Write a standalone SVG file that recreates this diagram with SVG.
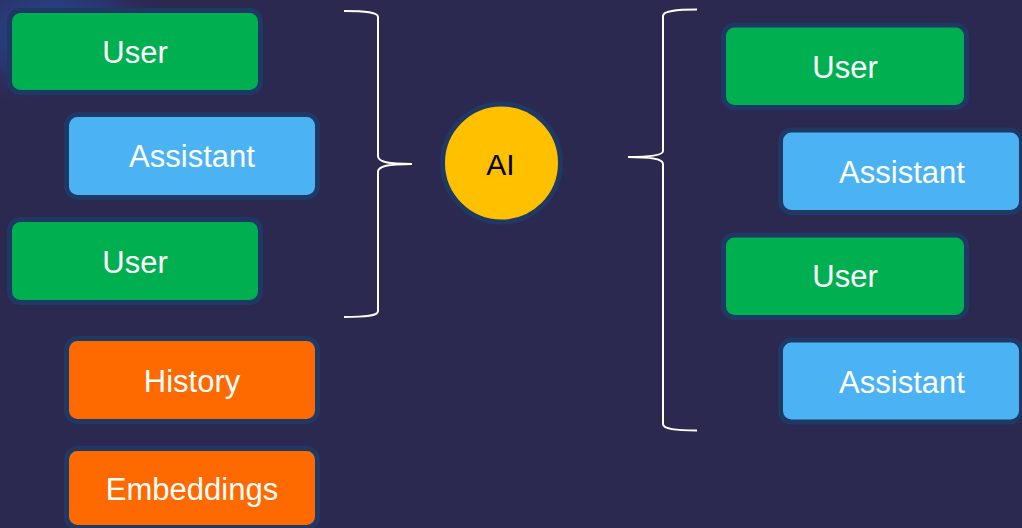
<svg xmlns="http://www.w3.org/2000/svg" width="1022" height="528" viewBox="0 0 1022 528">
<defs>
<radialGradient id="splash" cx="0.3" cy="0.3" r="0.7">
<stop offset="0" stop-color="#1f5aa8" stop-opacity="0.85"/>
<stop offset="0.6" stop-color="#2a3f8a" stop-opacity="0.5"/>
<stop offset="1" stop-color="#2c2951" stop-opacity="0"/>
</radialGradient>
</defs>
<style>
.box{stroke:#1f3864;stroke-width:5}
.user{fill:#00b050}
.asst{fill:#4bb3f4}
.hist{fill:#ff6a00}
.lbl{font-family:"Liberation Sans",Arial,sans-serif;font-size:31px;fill:#ffffff;text-anchor:middle}
.brace{fill:none;stroke:#ffffff;stroke-width:2}
</style>
<rect x="0" y="0" width="1022" height="528" fill="#2c2951"/>
<path d="M0,0 L170,0 C150,20 120,40 80,60 C50,80 40,100 30,110 L0,110 Z" fill="url(#splash)"/>
<g id="left-user-1"><rect class="box user" x="9.5" y="10.5" width="251" height="82" rx="11"/><text class="lbl" x="135" y="63">User</text></g>
<g id="left-assistant-1"><rect class="box asst" x="66.5" y="114.5" width="251" height="83" rx="11"/><text class="lbl" x="192" y="167">Assistant</text></g>
<g id="left-user-2"><rect class="box user" x="9.5" y="219.5" width="251" height="83" rx="11"/><text class="lbl" x="135" y="273">User</text></g>
<g id="history"><rect class="box hist" x="66.5" y="338.5" width="251" height="83" rx="11"/><text class="lbl" x="192" y="392">History</text></g>
<g id="embeddings"><rect class="box hist" x="66.5" y="448.5" width="251" height="79" rx="11"/><text class="lbl" x="192" y="500">Embeddings</text></g>
<g id="ai"><circle cx="501.5" cy="163" r="59" fill="#ffc000" stroke="#1f3864" stroke-width="5"/><text x="500.5" y="175" font-family="Liberation Sans,Arial,sans-serif" font-size="30" fill="#000000" text-anchor="middle">AI</text></g>
<g id="right-user-1"><rect class="box user" x="723.5" y="25" width="243" height="82.5" rx="11"/><text class="lbl" x="845" y="78">User</text></g>
<g id="right-assistant-1"><rect class="box asst" x="780.5" y="130" width="241" height="82.5" rx="11"/><text class="lbl" x="902" y="183">Assistant</text></g>
<g id="right-user-2"><rect class="box user" x="723.5" y="235" width="243" height="82.5" rx="11"/><text class="lbl" x="845" y="287">User</text></g>
<g id="right-assistant-2"><rect class="box asst" x="780.5" y="340" width="241" height="82" rx="11"/><text class="lbl" x="902" y="393">Assistant</text></g>
<g id="connectors">
<path class="brace" d="M344,11 C366,11 378,12 378,17 L378,156 C378,162 388,164 412,164 C388,164 378,166 378,172 L378,311 C378,316 366,317 344,317"/>
<path class="brace" d="M697,9.5 C675,9.5 663,11 663,16 L663,151 C663,155 652,157 628,157 C652,157 663,159 663,164 L663,424 C663,429 675,430.5 697,430.5"/>
</g>
</svg>
